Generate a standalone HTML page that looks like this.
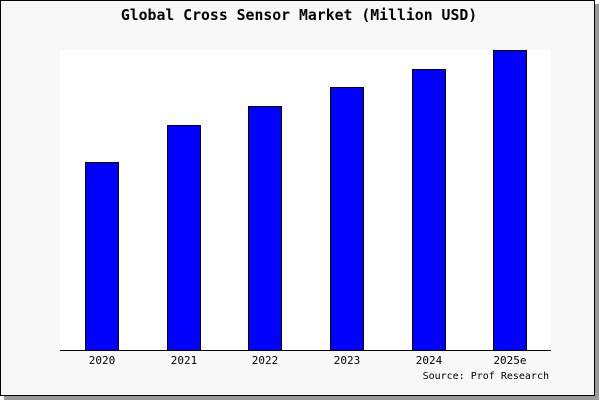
<!DOCTYPE html>
<html><head><style>
body{margin:0;background:#fff;}
svg{display:block;}
text{font-family:"DejaVu Sans Mono","Liberation Mono",monospace;}
</style></head><body>
<svg width="600" height="400" viewBox="0 0 600 400" xmlns="http://www.w3.org/2000/svg">
<rect x="4" y="4" width="595" height="396" fill="#999"/>
<rect x="0.5" y="0.5" width="594" height="395" fill="#f8f8f8" stroke="#000"/>
<rect x="60" y="50" width="491" height="300" fill="#fff"/>
<text x="299" y="20" font-size="14.8" text-anchor="middle" font-weight="bold">Global Cross Sensor Market (Million USD)</text>
<g fill="#0000ff" stroke="#000" stroke-width="1">
<rect x="85.5" y="162.5" width="33" height="188"/>
<rect x="167.5" y="125.5" width="33" height="225"/>
<rect x="248.5" y="106.5" width="33" height="244"/>
<rect x="330.5" y="87.5" width="33" height="263"/>
<rect x="412.5" y="69.5" width="33" height="281"/>
<rect x="493.5" y="50.5" width="33" height="300"/>
</g>
<line x1="60" y1="350.5" x2="551" y2="350.5" stroke="#000"/>
<g font-size="11" text-anchor="middle">
<text x="102" y="364">2020</text>
<text x="184" y="364">2021</text>
<text x="265" y="364">2022</text>
<text x="347" y="364">2023</text>
<text x="429" y="364">2024</text>
<text x="510" y="364">2025e</text>
</g>
<text x="549" y="379" font-size="10" text-anchor="end">Source: Prof Research</text>
</svg>
</body></html>
